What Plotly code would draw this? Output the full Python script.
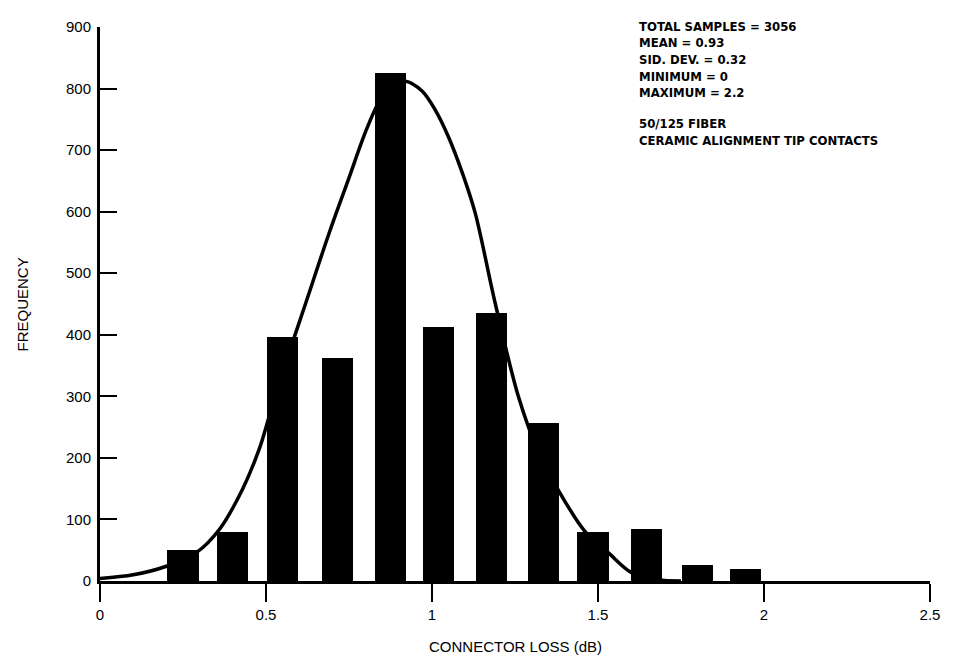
import plotly.graph_objects as go

# Histogram bars (bin centre in dB, frequency)
bin_centers = [0.25, 0.40, 0.55, 0.715, 0.875, 1.02, 1.18, 1.335, 1.485, 1.645, 1.80, 1.945]
frequencies = [50, 80, 396, 362, 826, 412, 436, 256, 80, 84, 26, 20]

# Fitted distribution curve
curve_x = [0.00, 0.10, 0.20, 0.29, 0.36, 0.43, 0.48, 0.51, 0.56, 0.62, 0.69, 0.75,
           0.80, 0.84, 0.88, 0.92, 0.97, 1.01, 1.05, 1.09, 1.13, 1.19, 1.26, 1.32,
           1.38, 1.46, 1.535, 1.60, 1.68, 1.75]
curve_y = [4, 10, 24, 46, 84, 150, 215, 268, 355, 452, 565, 655,
           730, 778, 805, 812, 796, 765, 721, 665, 598, 452, 300, 210,
           148, 81, 44, 14, 2, 0]

x_ticks = [0, 0.5, 1, 1.5, 2, 2.5]
y_ticks = [0, 100, 200, 300, 400, 500, 600, 700, 800, 900]

stat_lines = ["TOTAL SAMPLES = 3056", "MEAN = 0.93", "SID. DEV. = 0.32",
              "MINIMUM = 0", "MAXIMUM = 2.2"]
note_lines = ["50/125 FIBER", "CERAMIC ALIGNMENT TIP CONTACTS"]

# page body has an 8px margin: figure is placed at (8, 8) in the window
OFF = 8
W, H = 957 - OFF, 659 - OFF
ML, MR, MT, MB = 100 - OFF, 27, 18 - OFF, 78
PW, PH = W - ML - MR, H - MT - MB


def px_x(xw):
    return (xw - OFF - ML) / PW


def px_y(yw):
    return (H - MB - (yw - OFF)) / PH


fig = go.Figure()
fig.add_trace(go.Bar(x=bin_centers, y=frequencies, width=0.094,
                     marker=dict(color="black", line=dict(width=0)), showlegend=False))
fig.add_trace(go.Scatter(x=curve_x, y=curve_y, mode="lines",
                         line=dict(color="black", width=3.5, shape="spline", smoothing=0.9),
                         showlegend=False))

font_main = "Liberation Sans, Arial, sans-serif"
font_bold = "Liberation Sans Narrow, DejaVu Sans Condensed, Liberation Sans, sans-serif"
stat_size = 13

annotations = []
for i, t in enumerate(stat_lines):
    annotations.append(dict(
        text=t, xref="paper", yref="paper", x=px_x(637), y=px_y(17 + 17 * i),
        xanchor="left", yanchor="middle", showarrow=False,
        font=dict(family=font_bold, size=stat_size, color="black", weight="bold")))
for i, t in enumerate(note_lines):
    annotations.append(dict(
        text=t, xref="paper", yref="paper", x=px_x(637), y=px_y(116 + 17 * i),
        xanchor="left", yanchor="middle", showarrow=False,
        font=dict(family=font_bold, size=stat_size, color="black", weight="bold")))

annotations.append(dict(text="FREQUENCY", xref="paper", yref="paper",
                        x=px_x(22), y=px_y(300), textangle=-90,
                        xanchor="center", yanchor="middle", showarrow=False,
                        font=dict(family=font_main, size=15, color="black")))
annotations.append(dict(text="CONNECTOR LOSS (dB)", xref="paper", yref="paper",
                        x=px_x(515), y=px_y(648),
                        xanchor="center", yanchor="middle", showarrow=False,
                        font=dict(family=font_main, size=15, color="black")))

fig.update_layout(
    width=W, height=H,
    margin=dict(l=ML, r=MR, t=MT, b=MB),
    paper_bgcolor="white", plot_bgcolor="white",
    bargap=0,
    annotations=annotations,
    xaxis=dict(range=[0, 2.5], tickvals=x_ticks, ticktext=[str(v) for v in x_ticks],
               ticks="outside", ticklen=18, tickwidth=2, tickcolor="black",
               showline=True, linecolor="black", linewidth=2.5,
               showgrid=False, zeroline=False,
               tickfont=dict(family=font_main, size=15, color="black")),
    yaxis=dict(range=[0, 900], tickvals=y_ticks,
               ticks="inside", ticklen=17, tickwidth=2, tickcolor="black",
               showline=True, linecolor="black", linewidth=3,
               showgrid=False, zeroline=False, ticklabelstandoff=3,
               tickfont=dict(family=font_main, size=15, color="black")),
)

fig.write_html("out.html")
